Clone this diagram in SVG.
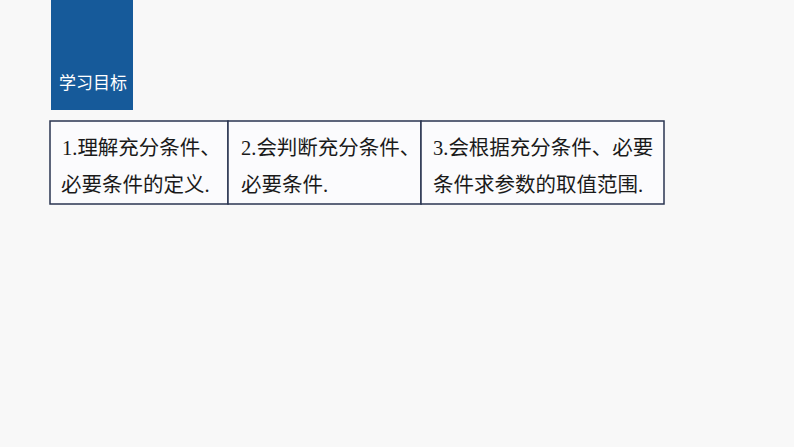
<svg xmlns="http://www.w3.org/2000/svg" width="794" height="447" viewBox="0 0 794 447">
<style>
.t{font-family:"Liberation Serif","Noto Sans CJK SC",serif;font-size:20.5px;fill:#1a1a1a}
.cell{fill:#fbfbfd;stroke:#2a3550;stroke-width:1.5}
</style>
<rect width="794" height="447" fill="#f8f8f8"/>
<g id="header">
<rect x="51" y="0" width="82" height="110" fill="#165a9a"/>
<text x="59" y="89" font-family="Noto Sans CJK SC,sans-serif" font-size="17" fill="#fff">学习目标</text>
</g>
<g id="cell1">
<rect class="cell" x="50" y="121" width="178" height="83"/>
<text class="t" x="62" y="155">1.理解充分条件、</text>
<text class="t" x="61" y="192">必要条件的定义.</text>
</g>
<g id="cell2">
<rect class="cell" x="228" y="121" width="193" height="83"/>
<text class="t" x="241" y="155">2.会判断充分条件、</text>
<text class="t" x="241" y="192">必要条件.</text>
</g>
<g id="cell3">
<rect class="cell" x="421" y="121" width="243" height="83"/>
<text class="t" x="433" y="155">3.会根据充分条件、必要</text>
<text class="t" x="433" y="192">条件求参数的取值范围.</text>
</g>
<g id="connectors"/>
</svg>
